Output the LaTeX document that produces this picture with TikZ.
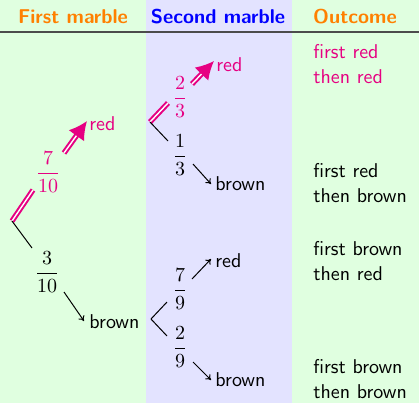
\documentclass[tikz,border=0pt]{standalone}
\usetikzlibrary{arrows.meta}
\definecolor{mymag}{RGB}{230,0,130}
\definecolor{hdorange}{RGB}{255,128,0}
\begin{document}
\begin{tikzpicture}[x=0.5pt,y=-0.5pt,
  lbl/.style={font=\sffamily,inner sep=0pt},
  hdr/.style={font=\sffamily\bfseries,inner sep=0pt},
  frac/.style={inner sep=0pt},
  redline/.style={draw=mymag,double=white,double distance=0.7pt,line width=1pt},
  redarrow/.style={redline,-{Latex[length=9pt,width=9.5pt]}},
  blkline/.style={draw=black,line width=0.5pt},
  blkarrow/.style={blkline,-{To[length=2.5pt,width=3.5pt]}},
  outc/.style={font=\sffamily,inner sep=0pt,anchor=west,align=left}]
\useasboundingbox (0,0) rectangle (419,403);
\fill[green!12] (0,0) rectangle (419,403);
\fill[blue!11] (146,0) rectangle (292,403);
\draw[black!70,line width=0.9pt] (0,32) -- (419,32);
\node[hdr,text=hdorange] (h1) at (73,17) {First marble};
\node[hdr,text=blue] (h2) at (218,17) {Second marble};
\node[hdr,text=hdorange] (h3) at (355,17) {Outcome};
% first level
\coordinate (root) at (12,221);
\coordinate (r1a) at (33,190);
\node[frac,text=mymag] (f710) at (48,172) {$\displaystyle\frac{7}{10}$};
\coordinate (r1b) at (64,153);
\coordinate (r1c) at (87,121);
\node[lbl,text=mymag,anchor=west] (red1) at (89,124) {red};
\draw[redline] (root) -- (r1a);
\draw[redarrow] (r1b) -- (r1c);
\coordinate (b1a) at (32,248);
\node[frac] (f310) at (47,272) {$\displaystyle\frac{3}{10}$};
\coordinate (b1b) at (64,292);
\coordinate (b1c) at (84,321);
\node[lbl,anchor=west] (brown1) at (89,322) {brown};
\draw[blkline] (root) -- (b1a);
\draw[blkarrow] (b1b) -- (b1c);
% second level upper
\coordinate (v1) at (150,122);
\coordinate (r2a) at (168,103);
\node[frac,text=mymag] (f23) at (180,97) {$\displaystyle\frac{2}{3}$};
\coordinate (r2b) at (192,84);
\coordinate (r2c) at (214,61);
\node[lbl,text=mymag,anchor=west] (red2) at (216,65) {red};
\draw[redline] (v1) -- (r2a);
\draw[redarrow] (r2b) -- (r2c);
\coordinate (b2a) at (168,141);
\node[frac] (f13) at (180,155) {$\displaystyle\frac{1}{3}$};
\coordinate (b2b) at (193,164);
\coordinate (b2c) at (211,184);
\node[lbl,anchor=west] (brown2) at (215,184) {brown};
\draw[blkline] (v1) -- (b2a);
\draw[blkarrow] (b2b) -- (b2c);
% second level lower
\coordinate (v2) at (151,319);
\coordinate (r3a) at (167,302);
\node[frac] (f79) at (180,289) {$\displaystyle\frac{7}{9}$};
\coordinate (r3b) at (192,279);
\coordinate (r3c) at (211,259);
\node[lbl,anchor=west] (red3) at (215,261) {red};
\draw[blkline] (v2) -- (r3a);
\draw[blkarrow] (r3b) -- (r3c);
\coordinate (b3a) at (167,336);
\node[frac] (f29) at (180,347) {$\displaystyle\frac{2}{9}$};
\coordinate (b3b) at (193,362);
\coordinate (b3c) at (211,380);
\node[lbl,anchor=west] (brown3) at (215,380) {brown};
\draw[blkline] (v2) -- (b3a);
\draw[blkarrow] (b3b) -- (b3c);
% outcomes
\node[outc,text=mymag] (o1) at (313,64) {first red\\[0.5pt]then red};
\node[outc] (o2) at (313,183) {first red\\[0.5pt]then brown};
\node[outc] (o3) at (313,261) {first brown\\[0.5pt]then red};
\node[outc] (o4) at (313,379) {first brown\\[0.5pt]then brown};
\end{tikzpicture}
\end{document}
